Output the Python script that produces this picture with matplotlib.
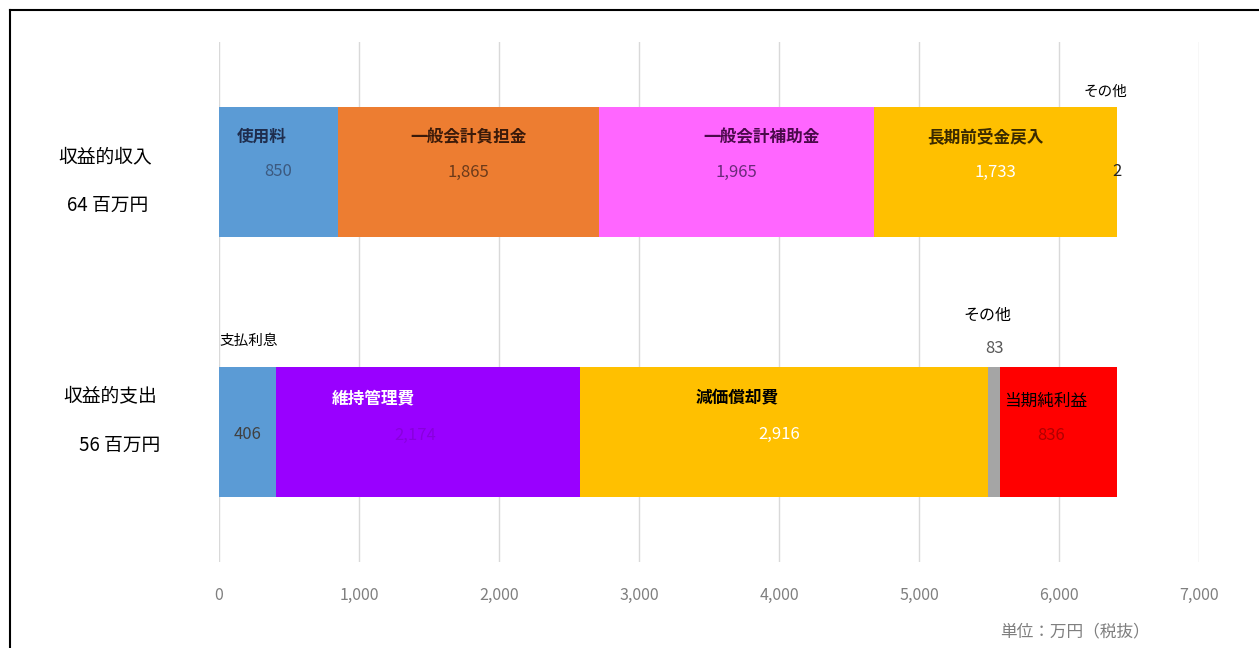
#!/usr/bin/env python3
"""Stacked horizontal bars: 収益的収入 vs 収益的支出 (単位: 万円)."""

import matplotlib
matplotlib.use("Agg")
import matplotlib.pyplot as plt
from matplotlib.lines import Line2D

plt.rcParams["font.family"] = ["Noto Sans CJK JP", "DejaVu Sans"]

# ---------- data ------------------------------------------------------------ #
income_names = ["使用料", "一般会計負担金", "一般会計補助金", "長期前受金戻入", "その他"]
income_values = [850, 1865, 1965, 1733, 2]
income_colors = ["#5b9bd5", "#ed7d31", "#ff66ff", "#ffc000", "#a5a5a5"]

expense_names = ["支払利息", "維持管理費", "減価償却費", "その他", "当期純利益"]
expense_values = [406, 2174, 2916, 83, 836]
expense_colors = ["#5b9bd5", "#9900ff", "#ffc000", "#a5a5a5", "#ff0000"]

row_titles = ["収益的収入", "収益的支出"]
row_totals = ["64 百万円", "56 百万円"]
x_ticks = [0, 1000, 2000, 3000, 4000, 5000, 6000, 7000]

# label styling per segment: (name dx, name dy, value dx, value dy, name colour, value colour)
income_style = [
    (-120, 0.135, 0, 0.0, "#1f2d4d", "#3c5a80"),
    (0, 0.135, 0, 0.0, "#3a1a0a", "#6b3a1a"),
    (180, 0.135, 0, 0.0, "#4a0a4a", "#6a2a7a"),
    (-70, 0.135, 0, 0.0, "#3a2a00", "#ffffff"),
]
expense_style = [
    (None, None, 0, -0.01, "#000000", "#404040"),
    (-390, 0.13, -90, -0.015, "#ffffff", "#8800dd"),
    (-340, 0.13, -40, -0.01, "#000000", "#ffffff"),
    (None, None, None, None, "#000000", "#595959"),
    (-90, 0.12, -50, -0.015, "#000000", "#b00000"),
]

# ---------- figure ---------------------------------------------------------- #
fig = plt.figure(figsize=(12.59, 6.48), dpi=100)
ax = fig.add_axes([219 / 1259, 1 - 562 / 648, 980 / 1259, 520 / 648])

ypos = [1, 0]
height = 0.5
rows = [(income_values, income_colors), (expense_values, expense_colors)]
starts_all = []
for y, (vals, cols) in zip(ypos, rows):
    left = 0
    starts = []
    for v, c in zip(vals, cols):
        ax.barh(y, v, left=left, height=height, color=c, zorder=2)
        starts.append(left)
        left += v
    starts_all.append(starts)

ax.set_xlim(0, 7000)
ax.set_ylim(-0.5, 1.5)
ax.set_xticks(x_ticks)
ax.set_xticklabels([f"{t:,}" for t in x_ticks], color="#7f7f7f", fontsize=11.5)
ax.set_yticks([])
ax.tick_params(axis="x", length=0, pad=18)
ax.grid(axis="x", color="#d9d9d9", linewidth=1, zorder=0)
for s in ax.spines.values():
    s.set_visible(False)

# income labels
y = 1
for i, (name, v) in enumerate(zip(income_names[:4], income_values[:4])):
    ndx, ndy, vdx, vdy, nc, vc = income_style[i]
    cx = starts_all[0][i] + v / 2
    ax.text(cx + ndx, y + ndy, name, ha="center", va="center", fontsize=12,
            color=nc, fontweight="bold", zorder=3)
    ax.text(cx + vdx, y + vdy, f"{v:,}", ha="center", va="center", fontsize=12,
            color=vc, zorder=3)
# tiny "その他" on the income bar
end_top = sum(income_values)
ax.text(end_top - 85, y + 0.31, income_names[4], ha="center", va="center", fontsize=10.5, color="#000000")
ax.text(end_top, y, f"{income_values[4]:,}", ha="center", va="center", fontsize=12, color="#262626")

# expense labels
y = 0
for i, (name, v) in enumerate(zip(expense_names, expense_values)):
    ndx, ndy, vdx, vdy, nc, vc = expense_style[i]
    cx = starts_all[1][i] + v / 2
    if i == 0:
        ax.text(0, y + 0.35, name, ha="left", va="center", fontsize=10.5, color="#000000")
        ax.text(cx, y + vdy, f"{v:,}", ha="center", va="center", fontsize=12, color=vc, zorder=3)
    elif i == 3:
        ax.text(cx - 50, y + 0.45, name, ha="center", va="center", fontsize=11.5, color=nc)
        ax.text(cx, y + 0.32, f"{v:,}", ha="center", va="center", fontsize=12, color=vc)
    else:
        ax.text(cx + ndx, y + ndy, name, ha="center", va="center", fontsize=12,
                color=nc, fontweight="bold" if i < 4 else "normal", zorder=3)
        ax.text(cx + vdx, y + vdy, f"{v:,}", ha="center", va="center", fontsize=12,
                color=vc, zorder=3)

# row titles on the left
title_px = [(105, 157, 108, 205), (110, 396, 120, 445)]
for (tx, ty, sx, sy), t, tot in zip(title_px, row_titles, row_totals):
    fig.text(tx / 1259, 1 - ty / 648, t, ha="center", va="center", fontsize=13.5)
    fig.text(sx / 1259, 1 - sy / 648, tot, ha="center", va="center", fontsize=13.5)

fig.text(1075 / 1259, 1 - 632 / 648, "単位：万円（税抜）", ha="center", va="center",
         fontsize=12, color="#7f7f7f")

# frame lines (top and left)
fig.add_artist(Line2D([10 / 1259, 1], [1 - 10 / 648, 1 - 10 / 648], color="black", lw=1.5))
fig.add_artist(Line2D([10 / 1259, 10 / 1259], [0, 1 - 10 / 648], color="black", lw=1.5))

fig.savefig("out.png", dpi=100)
